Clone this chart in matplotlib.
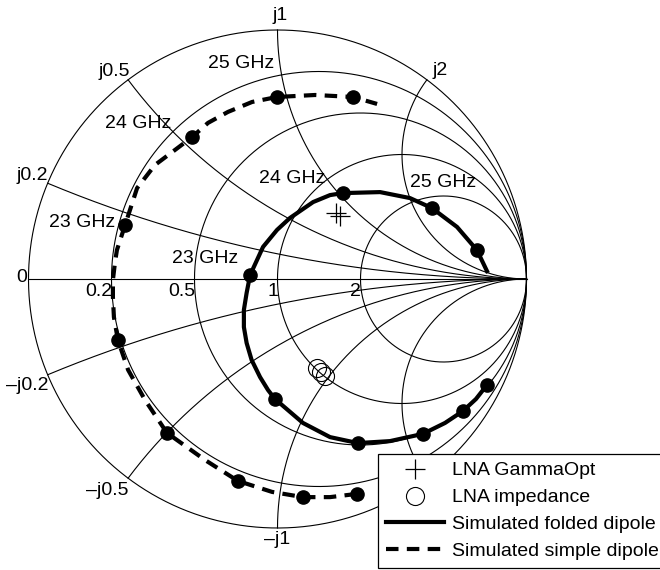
import numpy as np
import matplotlib
matplotlib.use('Agg')
import matplotlib.pyplot as plt
from matplotlib.lines import Line2D

# reflection coefficient data (real, imag) read from the chart
# folded dipole: curve path and 1 GHz markers (18 ... 26 GHz)
folded_re = [0.841, 0.797, 0.745, 0.673, 0.584, 0.452, 0.323, 0.211, 0.102, -0.010,
             -0.038, -0.070, -0.104, -0.124, -0.135, -0.135, -0.124, -0.110, -0.058,
             -0.002, 0.050, 0.143, 0.211, 0.263, 0.412, 0.532, 0.620, 0.721, 0.801, 0.845]
folded_im = [-0.426, -0.482, -0.530, -0.578, -0.622, -0.651, -0.659, -0.635, -0.578, -0.482,
             -0.446, -0.394, -0.325, -0.257, -0.193, -0.124, -0.056, 0.016, 0.129,
             0.197, 0.245, 0.309, 0.337, 0.345, 0.349, 0.325, 0.285, 0.209, 0.116, 0.024]
folded_mk_re = [0.841, 0.745, 0.584, 0.323, -0.010, -0.110, 0.263, 0.620, 0.801]
folded_mk_im = [-0.426, -0.530, -0.622, -0.659, -0.482, 0.016, 0.345, 0.285, 0.116]

# simple dipole
simple_re = [0.319, 0.211, 0.102, -0.022, -0.159, -0.291, -0.444, -0.532, -0.600, -0.641,
             -0.657, -0.661, -0.661, -0.653, -0.645, -0.612, -0.564, -0.492, -0.412,
             -0.343, -0.279, -0.199, -0.102, -0.002, 0.151, 0.303, 0.400]
simple_im = [-0.863, -0.876, -0.876, -0.855, -0.811, -0.727, -0.618, -0.486, -0.365, -0.245,
             -0.153, -0.072, -0.004, 0.064, 0.116, 0.217, 0.365, 0.458, 0.518,
             0.570, 0.627, 0.671, 0.711, 0.731, 0.739, 0.731, 0.703]
simple_mk_re = [0.319, 0.102, -0.159, -0.444, -0.641, -0.612, -0.343, -0.002, 0.303]
simple_mk_im = [-0.863, -0.876, -0.811, -0.618, -0.245, 0.217, 0.570, 0.731, 0.731]

# LNA points
gopt_re = [0.235, 0.251]
gopt_im = [0.265, 0.253]
lna_re = [0.159, 0.175, 0.191]
lna_im = [-0.357, -0.373, -0.390]

# frequency annotations (text, re, im)
freq_labels = ['25 GHz', '24 GHz', '23 GHz', '24 GHz', '23 GHz', '25 GHz']
freq_re = [-0.145, -0.558, -0.783, 0.060, -0.291, 0.665]
freq_im = [0.865, 0.624, 0.227, 0.404, 0.082, 0.386]

# smith grid values
r_circles = [0.2, 0.5, 1, 2]
x_arcs = [0.2, 0.5, 1, 2]

plt.rcParams['font.family'] = ['Liberation Sans', 'DejaVu Sans']
FS = 14

# figure geometry: chart centre and radius in pixels
W, H = 660, 570
cx, cy, R = 277.5, 279.0, 249.0

fig = plt.figure(figsize=(W / 100, H / 100), dpi=100)
ax = fig.add_axes([0, 0, 1, 1])
ax.set_xlim(-cx / R, (W - cx) / R)
ax.set_ylim(-(H - cy) / R, cy / R)
ax.axis('off')

gk = dict(color='black', lw=0.8, zorder=1)

# outer circle and real axis
t = np.linspace(0, 2 * np.pi, 600)
ax.plot(np.cos(t), np.sin(t), **gk)
ax.plot([-1, 1], [0, 0], **gk)

# constant resistance circles
for r in r_circles:
    c = r / (1.0 + r)
    rad = 1.0 / (1.0 + r)
    ax.plot(c + rad * np.cos(t), rad * np.sin(t), **gk)

# constant reactance arcs
rr = np.concatenate([[0.0], np.logspace(-3, 4, 800)])
for x in x_arcs:
    for s in (1, -1):
        z = rr + 1j * s * x
        g = (z - 1) / (z + 1)
        ax.plot(g.real, g.imag, **gk)


def px_offset(dx, dy):
    # pixel offsets -> points (y down in pixels)
    return (dx * 0.72, -dy * 0.72)


# resistance labels
ax.annotate('0', (-1, 0), xytext=px_offset(-1.5, -1), textcoords='offset points',
            ha='right', va='center', fontsize=FS)
for r in r_circles:
    gx = (r - 1.0) / (r + 1.0)
    lab = '%g' % r
    ax.annotate(lab, (gx, 0), xytext=px_offset(0.5, 4), textcoords='offset points',
                ha='right', va='top', fontsize=FS)

# reactance labels, offsets in pixels from the point on the outer circle
upper_off = {0.2: (-15, -8), 0.5: (-14, -8.5), 1: (2.5, -15), 2: (13.5, -9.5)}
lower_off = {0.2: (-20, 10.5), 0.5: (-20.5, 12), 1: (0, 11), 2: (13.5, 10)}
for x in x_arcs:
    for s in (1, -1):
        z = 1j * s * x
        g = (z - 1) / (z + 1)
        if s > 0:
            dx, dy = upper_off[x]
            lab = 'j%g' % x
        else:
            dx, dy = lower_off[x]
            lab = '\u2013j%g' % x
        ax.annotate(lab, (g.real, g.imag), xytext=px_offset(dx, dy),
                    textcoords='offset points', ha='center', va='center', fontsize=FS)

# frequency labels
for lab, fx, fy in zip(freq_labels, freq_re, freq_im):
    ax.text(fx, fy, lab, ha='center', va='center', fontsize=FS, zorder=2)

# simulated curves
ax.plot(folded_re, folded_im, color='black', lw=3, solid_capstyle='butt',
        solid_joinstyle='round', zorder=3)
ax.plot(folded_mk_re, folded_mk_im, 'o', color='black', ms=9.5, zorder=4)
ax.plot(simple_re, simple_im, color='black', lw=3, dashes=(3, 2), zorder=3)
ax.plot(simple_mk_re, simple_mk_im, 'o', color='black', ms=9.5, zorder=4)

# LNA markers
ax.plot(gopt_re, gopt_im, '+', color='black', ms=14, mew=0.9, zorder=5)
ax.plot(lna_re, lna_im, 'o', mfc='none', mec='black', ms=13, mew=0.8, zorder=5)

handles = [
    Line2D([], [], ls='none', marker='+', color='black', ms=14, mew=0.9),
    Line2D([], [], ls='none', marker='o', mfc='none', mec='black', ms=13, mew=0.8),
    Line2D([], [], color='black', lw=3),
    Line2D([], [], color='black', lw=3, dashes=(3, 2)),
]
labels = ['LNA GammaOpt', 'LNA impedance', 'Simulated folded dipole', 'Simulated simple dipole']
leg = fig.legend(handles, labels, loc='lower left', bbox_to_anchor=(378 / W, 2 / H),
                 bbox_transform=fig.transFigure, borderaxespad=0, fontsize=FS,
                 handlelength=3.0, handletextpad=0.4, labelspacing=0.48, borderpad=0.4,
                 numpoints=1, fancybox=False, framealpha=1, edgecolor='black')
leg.get_frame().set_linewidth(0.9)
leg.set_zorder(10)

fig.savefig('out.png', dpi=100)
